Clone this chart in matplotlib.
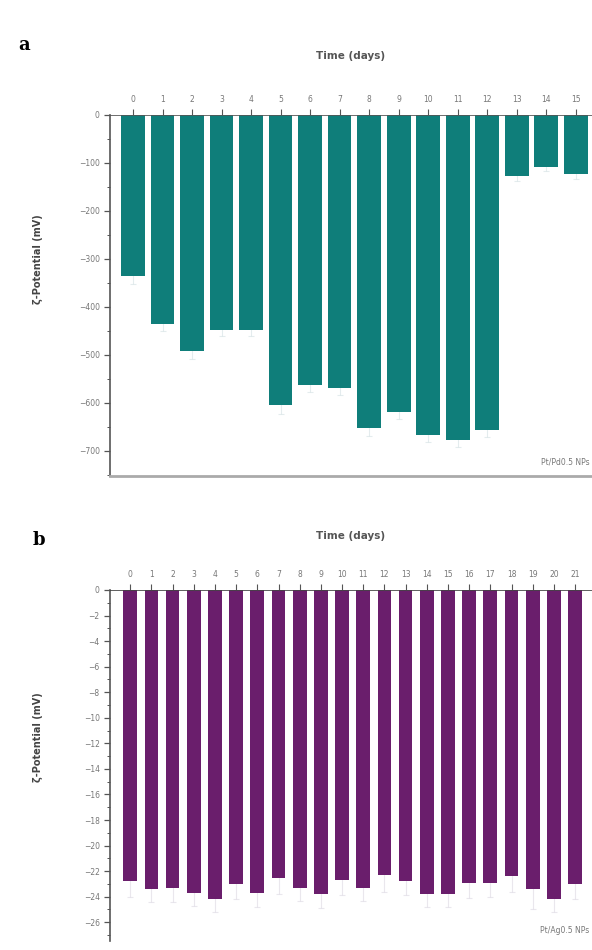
import matplotlib
matplotlib.use("Agg")
import matplotlib.pyplot as plt
from matplotlib.ticker import MultipleLocator

# Zeta potential over time for two nanoparticle suspensions
days_a = ["0", "1", "2", "3", "4", "5", "6", "7", "8", "9", "10", "11", "12", "13", "14", "15"]
zeta_a = [-335, -435, -492, -447, -447, -605, -562, -568, -652, -618, -667, -677, -656, -128, -108, -124]
err_a = [18, 15, 16, 14, 14, 18, 15, 15, 17, 16, 15, 14, 15, 10, 8, 10]

days_b = [str(d) for d in range(22)]
zeta_b = [-22.8, -23.4, -23.3, -23.7, -24.2, -23.0, -23.7, -22.5, -23.3, -23.8, -22.7,
          -23.3, -22.3, -22.8, -23.8, -23.8, -22.9, -22.9, -22.4, -23.4, -24.2, -23.0]
err_b = [1.2, 1.0, 1.1, 1.0, 1.0, 1.2, 1.1, 1.3, 1.0, 1.1, 1.2, 1.0, 1.3, 1.1, 1.0,
         1.0, 1.2, 1.1, 1.2, 1.6, 1.0, 1.2]

teal = "#0f7e7a"
purple = "#6a1e6c"
spine_col = "#555555"

fig = plt.figure(figsize=(5.92, 9.5), dpi=100)


def style_axis(ax, bottom_visible=True):
    ax.xaxis.tick_top()
    ax.xaxis.set_label_position("top")
    ax.spines["right"].set_visible(False)
    ax.spines["top"].set_visible(False)
    ax.spines["left"].set_color(spine_col)
    ax.spines["left"].set_linewidth(1.2)
    if bottom_visible:
        ax.spines["bottom"].set_color("#aaaaaa")
        ax.spines["bottom"].set_linewidth(2.0)
    else:
        ax.spines["bottom"].set_visible(False)
    ax.tick_params(axis="x", which="both", length=4, width=0.8, colors=spine_col,
                   labelsize=5.5, labelcolor="#777777", pad=4)
    ax.tick_params(axis="y", which="major", length=4, width=0.9, colors=spine_col,
                   labelsize=5.5, labelcolor="#777777")
    ax.tick_params(axis="y", which="minor", length=2.5, width=0.7, colors=spine_col)


# ---- panel a ----
ax1 = fig.add_axes([0.186, 0.499, 0.814, 0.380])
xa = range(len(days_a))
ax1.bar(xa, zeta_a, width=0.8, color=teal, edgecolor="none", zorder=2)
ax1.errorbar(xa, zeta_a, yerr=err_a, fmt="none", ecolor="#d3e0e3", elinewidth=0.8,
             capsize=2, capthick=0.8, alpha=0.6, zorder=1)
ax1.axhline(0, color=spine_col, lw=1.2, zorder=3)
ax1.set_xticks(list(xa))
ax1.set_xticklabels(days_a)
ax1.set_xlim(-0.78, len(days_a) - 0.45)
ax1.set_ylim(-752, 0)
ax1.yaxis.set_major_locator(MultipleLocator(100))
ax1.yaxis.set_minor_locator(MultipleLocator(50))
style_axis(ax1)
ax1.set_xlabel("Time (days)", fontsize=7.5, fontweight="bold", color="#555555", labelpad=26)
ax1.set_ylabel("ζ-Potential (mV)", fontsize=7, fontweight="bold", color="#444444")
ax1.yaxis.set_label_coords(-0.14, 0.6)
ax1.text(0.995, 0.04, "Pt/Pd0.5 NPs", transform=ax1.transAxes, ha="right", va="center",
         fontsize=5.5, color="#777777")
fig.text(0.03, 0.953, "a", fontsize=13, fontweight="bold", family="DejaVu Serif",
         ha="left", va="center")

# ---- panel b ----
ax2 = fig.add_axes([0.186, 0.009, 0.814, 0.370])
xb = range(len(days_b))
ax2.bar(xb, zeta_b, width=0.65, color=purple, edgecolor="none", zorder=2)
ax2.errorbar(xb, zeta_b, yerr=err_b, fmt="none", ecolor="#dcd8e2", elinewidth=0.8,
             capsize=2, capthick=0.8, alpha=0.6, zorder=1)
ax2.axhline(0, color="#444444", lw=1.2, zorder=3)
ax2.set_xticks(list(xb))
ax2.set_xticklabels(days_b)
ax2.set_xlim(-0.95, len(days_b) - 0.2)
ax2.set_ylim(-27.5, 0)
ax2.yaxis.set_major_locator(MultipleLocator(2))
ax2.yaxis.set_minor_locator(MultipleLocator(1))
style_axis(ax2, bottom_visible=False)
ax2.set_xlabel("Time (days)", fontsize=7.5, fontweight="bold", color="#555555", labelpad=22)
ax2.set_ylabel("ζ-Potential (mV)", fontsize=7, fontweight="bold", color="#444444")
ax2.yaxis.set_label_coords(-0.14, 0.58)
ax2.text(0.995, 0.03, "Pt/Ag0.5 NPs", transform=ax2.transAxes, ha="right", va="center",
         fontsize=5.5, color="#777777")
fig.text(0.055, 0.432, "b", fontsize=13, fontweight="bold", family="DejaVu Serif",
         ha="left", va="center")

fig.savefig("out.png", dpi=100)
